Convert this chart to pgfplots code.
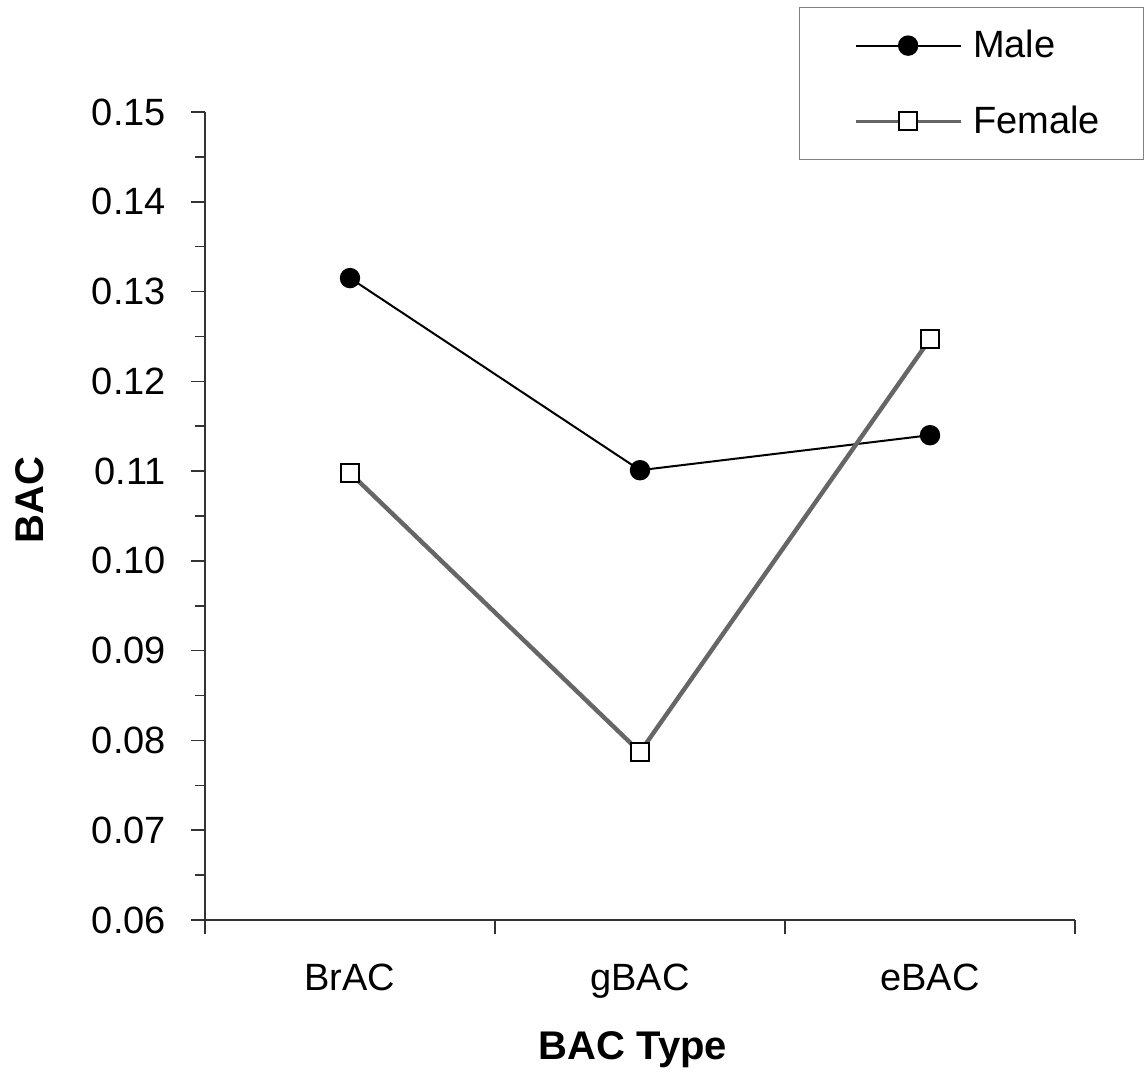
\documentclass[border=0pt]{standalone}
\usepackage{pgfplots}
\pgfplotsset{compat=1.18}
\usepackage{fontspec}
\setmainfont{Liberation Sans}

\begin{document}
\begin{tikzpicture}
\useasboundingbox (0,0) rectangle (572.5pt,537.5pt);
\begin{axis}[
    at={(102.5pt,77.5pt)},
    anchor=south west,
    scale only axis,
    width=435pt,
    height=404pt,
    axis lines*=left,
    axis line style={black!80, line width=0.8pt},
    xmin=0.5, xmax=3.5,
    ymin=0.06, ymax=0.15,
    xtick={0.5,1.5,2.5,3.5},
    xticklabels={},
    extra x ticks={1,2,3},
    extra x tick labels={BrAC,gBAC,eBAC},
    extra x tick style={major tick length=0pt},
    ytick={0.06,0.07,0.08,0.09,0.10,0.11,0.12,0.13,0.14,0.15},
    minor y tick num=1,
    tick align=outside,
    major tick length=7pt,
    minor tick length=5pt,
    tick style={black!80, line width=0.8pt},
    yticklabel style={xshift=-9pt, /pgf/number format/.cd, fixed, fixed zerofill, precision=2, assume math mode=true},
    ticklabel style={font=\fontsize{19}{23}\selectfont},
    xticklabel style={yshift=-18.5pt},
    xlabel={BAC Type},
    ylabel={BAC},
    label style={font=\fontsize{20}{24}\selectfont\bfseries},
    xlabel style={at={(axis description cs:0.492,-0.160)}, anchor=center},
    ylabel style={at={(axis description cs:-0.201,0.52)}, anchor=center},
    legend style={
        at={(axis description cs:0.6828,1.13)},
        anchor=north west,
        draw=black!50,
        font=\fontsize{19}{23}\selectfont,
        inner xsep=20pt,
        inner ysep=9.5pt,
        row sep=18.5pt,
        cells={anchor=west},
        /tikz/every odd column/.append style={column sep=3.5pt},
    },
    legend image code/.code={
        \path (0pt,0pt);
        \draw[mark repeat=2, mark phase=2] plot coordinates {(7pt,0pt) (33.25pt,0pt) (59.5pt,0pt)};
    },
]
% Male
\addplot[
    color=black,
    line width=1pt,
    mark=*,
    mark size=4.6pt,
    mark options={solid, fill=black},
] coordinates {
    (1,0.1315)
    (2,0.1101)
    (3,0.1140)
};
% Female
\addplot[
    color=black!60,
    line width=2.2pt,
    mark=square*,
    mark size=4.6pt,
    mark options={solid, draw=black, fill=white, line width=1pt},
    legend image code/.code={
        \path (0pt,0pt);
        \draw[line width=1.4pt, mark repeat=2, mark phase=2] plot coordinates {(7pt,0pt) (33.25pt,0pt) (59.5pt,0pt)};
    },
] coordinates {
    (1,0.1098)
    (2,0.0787)
    (3,0.1247)
};
\legend{Male, Female}
\end{axis}
\end{tikzpicture}
\end{document}
